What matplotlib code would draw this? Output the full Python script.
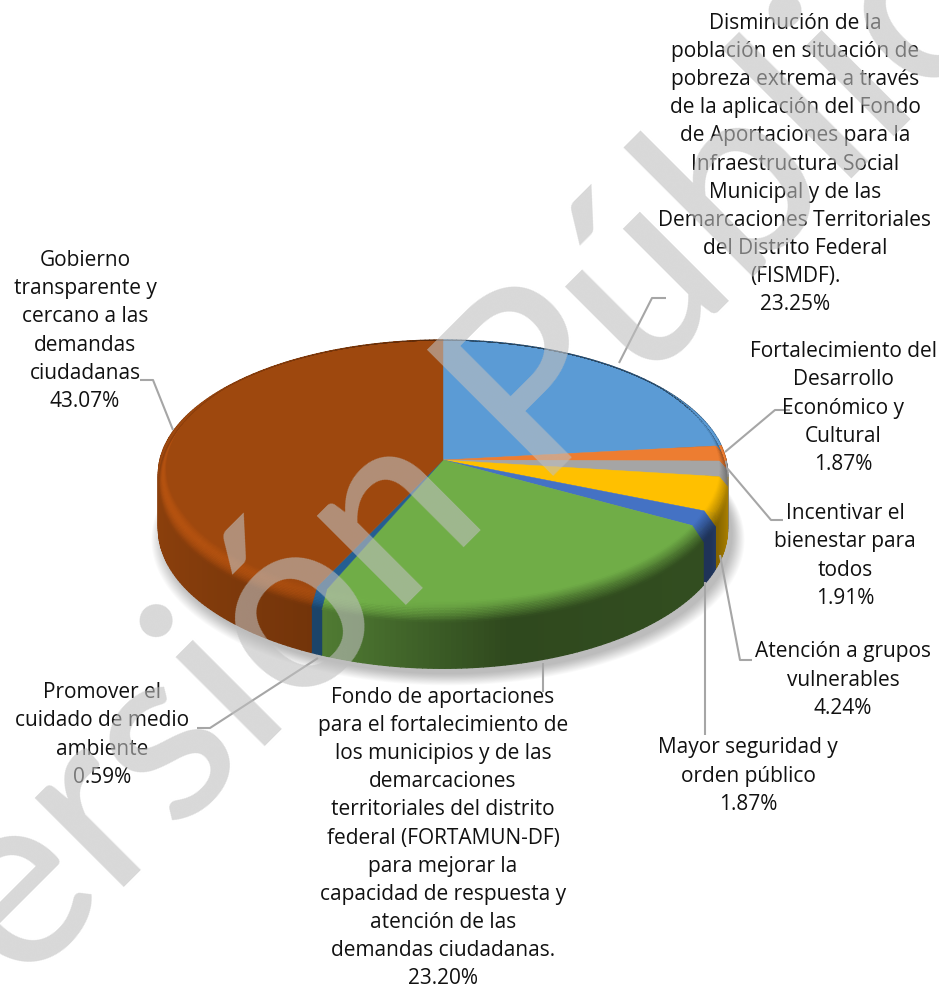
import numpy as np
import matplotlib
matplotlib.use("Agg")
import matplotlib.pyplot as plt
from matplotlib.collections import PolyCollection
from matplotlib.colors import to_rgb

labels = [
    "Disminución de la\npoblación en situación de\npobreza extrema a través\nde la aplicación del Fondo\nde Aportaciones para la\nInfraestructura Social\nMunicipal y de las\nDemarcaciones Territoriales\ndel Distrito Federal\n(FISMDF).",
    "Fortalecimiento del\nDesarrollo\nEconómico y\nCultural",
    "Incentivar el\nbienestar para\ntodos",
    "Atención a grupos\nvulnerables",
    "Mayor seguridad y\norden público",
    "Fondo de aportaciones\npara el fortalecimiento de\nlos municipios y de las\ndemarcaciones\nterritoriales del distrito\nfederal (FORTAMUN-DF)\npara mejorar la\ncapacidad de respuesta y\natención de las\ndemandas ciudadanas.",
    "Promover el\ncuidado de medio\nambiente",
    "Gobierno\ntransparente y\ncercano a las\ndemandas\nciudadanas",
]
values = [23.25, 1.87, 1.91, 4.24, 1.87, 23.20, 0.59, 43.07]
colors = ["#5b9bd5", "#ed7d31", "#a5a5a5", "#ffc000", "#4472c4", "#70ad47", "#255e91", "#9e480e"]
label_centers = [(795, 164), (843, 408), (845, 556), (843, 680), (748, 776), (443, 838), (102, 735), (85, 331)]
leaders = [
    [(619, 363), (652, 298), (666, 298)],
    [(725, 452), (775, 410), (790, 410)],
    [(727, 468), (771, 520), (783, 520)],
    [(720, 555), (740, 660), (752, 660)],
    [(705, 582), (705, 735)],
    [(543, 663), (543, 692)],
    [(318, 658), (210, 728), (197, 728)],
    [(173, 430), (153, 380), (140, 380)],
]

CX, CY, A, D, C, DEPTH = 443.0, 460.0, 132.5, 283.0, 0.1045, 54.0
plt.rcParams["font.family"] = ["Open Sans", "DejaVu Sans"]

fig = plt.figure(figsize=(9.39, 9.88), dpi=100)
ax = fig.add_axes([0, 0, 1, 1])
ax.set_xlim(0, 939)
ax.set_ylim(988, 0)
ax.axis("off")


def proj(theta, r=1.0, z=0.0):
    x, y = r * np.sin(theta), r * np.cos(theta)
    w = 1 + C * y
    return CX + D * x / w, CY - A * y / w + z / w


# soft shadow
th = np.linspace(0, 2 * np.pi, 361)
for k in range(14):
    s = 1.0 + 0.0032 * k
    px, py = proj(th, s, DEPTH)
    ax.fill(px + 5, py + 6 + k * 0.3, color="k", alpha=0.018, lw=0, zorder=1)


def side_factor(x):
    return np.interp(x, [-1, -0.4, 0.2, 0.9, 1.0], [0.88, 0.72, 0.42, 0.45, 0.7])


def w(v):
    return np.clip(0.6 - np.cos(v), 0.02, 1.0)


edges = np.cumsum([0] + values) / sum(values) * 2 * np.pi
side_polys, side_cols, top_polys, top_cols, band_polys, band_cols = [], [], [], [], [], []
T = np.linspace(0, 1, 15)
for a0, a1, col in zip(edges[:-1], edges[1:], colors):
    base = np.array(to_rgb(col))
    n = max(2, int(np.degrees(a1 - a0)))
    ang = np.linspace(a0, a1, n + 1)
    ax_, ay_ = proj(ang)
    top_polys.append(np.column_stack([np.r_[CX, ax_], np.r_[CY, ay_]]))
    top_cols.append(base)
    for u0, u1 in zip(ang[:-1], ang[1:]):
        um = (u0 + u1) / 2
        f = side_factor(np.sin(um))
        x0, y0 = proj(u0)
        x1, y1 = proj(u1)
        x2, y2 = proj(u1, 1, DEPTH)
        x3, y3 = proj(u0, 1, DEPTH)
        side_polys.append([(x0, y0), (x1, y1), (x2, y2), (x3, y3)])
        side_cols.append(np.clip(base * f, 0, 1))
        light = max(0.0, -0.9 * np.sin(um) - 0.4 * np.cos(um))
        for t0, t1 in zip(T[:-1], T[1:]):
            tm = (t0 + t1) / 2
            pts = [proj(v, 1 - 0.04 * w(v) * (1 - t), 13 * w(v) * t)
                   for v, t in ((u0, t0), (u1, t0), (u1, t1), (u0, t1))]
            g = (1 - tm) + tm * f + 0.22 * light * np.sin(np.pi * tm)
            band_polys.append(pts)
            band_cols.append(np.clip(base * g, 0, 1))

ax.add_collection(PolyCollection(side_polys, facecolors=side_cols, edgecolors=side_cols, linewidths=1.0, zorder=2))
ax.add_collection(PolyCollection(top_polys, facecolors=top_cols, edgecolors=top_cols, linewidths=0.3, zorder=3))
ax.add_collection(PolyCollection(band_polys, facecolors=band_cols, edgecolors=band_cols, linewidths=0.3, zorder=4))

for pts in leaders:
    xs, ys = zip(*pts)
    ax.plot(xs, ys, color="#a6a6a6", lw=1.5, zorder=5, solid_capstyle="butt")

for (cx, cy), lab, v in zip(label_centers, labels, values):
    ax.text(cx, cy, f"{lab}\n{v:.2f}%", ha="center", va="center", ma="center",
            fontsize=15, color="#111111", linespacing=1.44, zorder=6)

for word, (wx, wy), align in (("Versión", (493, 518), "right"), ("Pública", (532, 477), "left")):
    ax.text(wx, wy, word, rotation=45, rotation_mode="anchor", ha=align, va="baseline",
            family="Lato", fontsize=178, fontweight="medium", color="#bfbfbf", alpha=0.6,
            zorder=10, clip_on=True)

fig.savefig("out.png", dpi=100, facecolor="white")
